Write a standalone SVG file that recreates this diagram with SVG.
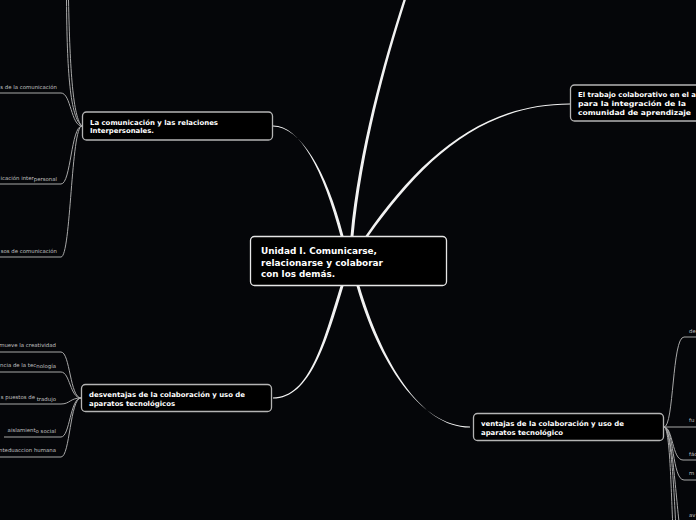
<svg xmlns="http://www.w3.org/2000/svg" width="696" height="520" viewBox="0 0 696 520">
<style>
.bg{fill:#050609}
.main{fill:#000;stroke:#e6e6e6;stroke-width:1.3}
.sub{fill:#000;stroke:#b4b4b4;stroke-width:1.3}
.t0{font-family:"DejaVu Sans",sans-serif;font-weight:bold;font-size:8.6px;fill:#fff}
.t1{font-family:"DejaVu Sans",sans-serif;font-weight:bold;font-size:6.8px;fill:#fff}
.lf{font-family:"DejaVu Sans",sans-serif;font-size:5.4px;fill:#c0c0c0;text-anchor:end}
.lr{font-family:"DejaVu Sans",sans-serif;font-size:5.4px;fill:#c0c0c0}
.tap{fill:#f2f2f2;stroke:none}
.br{fill:none;stroke:#a8a8a8;stroke-width:1}
</style>
<rect class="bg" x="0" y="0" width="696" height="520"/>
<g id="connectors">
  <path class="tap" d="M350.5,236 C358.5,150 384,60 404,-2 L406.5,-2 C386.5,60 361.5,150 353.5,236 Z"/>
  <path class="tap" d="M340.5,236 C323.5,170 300,125.4 273,125.4 L273,126.6 C300,126.6 326.5,170 343.5,236 Z"/>
  <path class="tap" d="M365.5,236 C418.5,160 480,103.4 570,103.4 L570,104.6 C480,104.6 421.5,162 368.5,236 Z"/>
  <path class="tap" d="M340.5,286 C323.5,340 310,397.4 273,397.4 L273,398.6 C310,398.6 326.5,342 343.5,286 Z"/>
  <path class="tap" d="M356.5,286 C378.5,362 420,426.4 470,426.4 L470,427.6 C420,427.6 381.5,360 359.5,286 Z"/>
  <g id="left-top-branches">
    <path class="br" d="M66.5,0 C67,70 70,118 82,126"/>
    <path class="br" d="M68.5,0 C70,70 73,118 82,126"/>
    <path class="br" d="M0,93 H61 C71,93 71,126 82,126"/>
    <path class="br" d="M0,184 H61 C71,184 71,126 82,126"/>
    <path class="br" d="M0,257 H61 C71,257 71,126 82,126"/>
  </g>
  <g id="left-bottom-branches">
    <path class="br" d="M0,352 H61 C70,352 70,398 81,398"/>
    <path class="br" d="M0,372 H61 C70,372 70,398 81,398"/>
    <path class="br" d="M0,404 H61 C70,404 70,398 81,398"/>
    <path class="br" d="M4,437 H61 C70,437 70,398 81,398"/>
    <path class="br" d="M0,457 H61 C70,457 70,398 81,398"/>
  </g>
  <g id="right-branches">
    <path class="br" d="M664,427 C674,427 672,337 684,337 H696"/>
    <path class="br" d="M664,427 H696"/>
    <path class="br" d="M664,427 C673,427 672,460 683,460 H696"/>
    <path class="br" d="M664,427 C674,427 672,480 684,480 H696"/>
    <path class="br" d="M664,427 C672,427 676,500 680,530"/>
    <path class="br" d="M664,427 C671,427 674,490 676,530"/>
    <path class="br" d="M664,427 C670,427 671,490 673,530"/>
  </g>
</g>
<g id="central">
  <rect class="main" x="250.5" y="236.5" width="196" height="49" rx="4"/>
  <text class="t0" x="261" y="254" textLength="116" lengthAdjust="spacingAndGlyphs">Unidad I. Comunicarse,</text>
  <text class="t0" x="261" y="265.5" textLength="122" lengthAdjust="spacingAndGlyphs">relacionarse y colaborar</text>
  <text class="t0" x="261" y="277" textLength="74" lengthAdjust="spacingAndGlyphs">con los demás.</text>
</g>
<g id="node-comunicacion">
  <rect class="sub" x="82.5" y="112" width="190" height="28" rx="4"/>
  <text class="t1" x="90" y="124.5" textLength="128" lengthAdjust="spacingAndGlyphs">La comunicación y las relaciones</text>
  <text class="t1" x="90" y="133" textLength="64" lengthAdjust="spacingAndGlyphs">Interpersonales.</text>
</g>
<g id="node-trabajo">
  <rect class="sub" x="570.5" y="85" width="140" height="36" rx="4"/>
  <text class="t1" x="578" y="97" textLength="118" lengthAdjust="spacingAndGlyphs">El trabajo colaborativo en el a</text>
  <text class="t1" x="578" y="106" textLength="108" lengthAdjust="spacingAndGlyphs">para la integración de la</text>
  <text class="t1" x="578" y="115" textLength="113" lengthAdjust="spacingAndGlyphs">comunidad de aprendizaje</text>
</g>
<g id="node-desventajas">
  <rect class="sub" x="81.5" y="384.5" width="190" height="27" rx="4"/>
  <text class="t1" x="89" y="397" textLength="156" lengthAdjust="spacingAndGlyphs">desventajas de la colaboración y uso de</text>
  <text class="t1" x="89" y="405.5" textLength="86" lengthAdjust="spacingAndGlyphs">aparatos tecnológicos</text>
</g>
<g id="node-ventajas">
  <rect class="sub" x="473.5" y="413.5" width="190" height="27" rx="4"/>
  <text class="t1" x="481" y="426" textLength="143" lengthAdjust="spacingAndGlyphs">ventajas de la colaboración y uso de</text>
  <text class="t1" x="481" y="434.5" textLength="82" lengthAdjust="spacingAndGlyphs">aparatos tecnológico</text>
</g>
<g id="leaf-l1"><text class="lf" x="57" y="89">s de la comunicación</text></g>
<g id="leaf-l2"><text class="lf" x="57" y="180"><tspan>icación inter</tspan><tspan dy="1.2">personal</tspan></text></g>
<g id="leaf-l3"><text class="lf" x="57" y="252.5">sos de comunicación</text></g>
<g id="leaf-d1"><text class="lf" x="56" y="347">mueve la creatividad</text></g>
<g id="leaf-d2"><text class="lf" x="56" y="366.5"><tspan>ncia de la tec</tspan><tspan dy="1.3">nología</tspan></text></g>
<g id="leaf-d3"><text class="lf" x="56" y="399"><tspan>s puestos de </tspan><tspan dy="1.5">tradujo</tspan></text></g>
<g id="leaf-d4"><text class="lf" x="56" y="431.5"><tspan>aislamient</tspan><tspan dy="1.8">o social</tspan></text></g>
<g id="leaf-d5"><text class="lf" x="56" y="452">nteduaccion humana</text></g>
<g id="leaf-r1"><text class="lr" x="689" y="333">de</text></g>
<g id="leaf-r2"><text class="lr" x="689" y="422">fu</text></g>
<g id="leaf-r3"><text class="lr" x="689" y="455.5">fác</text></g>
<g id="leaf-r4"><text class="lr" x="689" y="475">m</text></g>
<g id="leaf-r5"><text class="lr" x="689" y="517">av</text></g>
</svg>
